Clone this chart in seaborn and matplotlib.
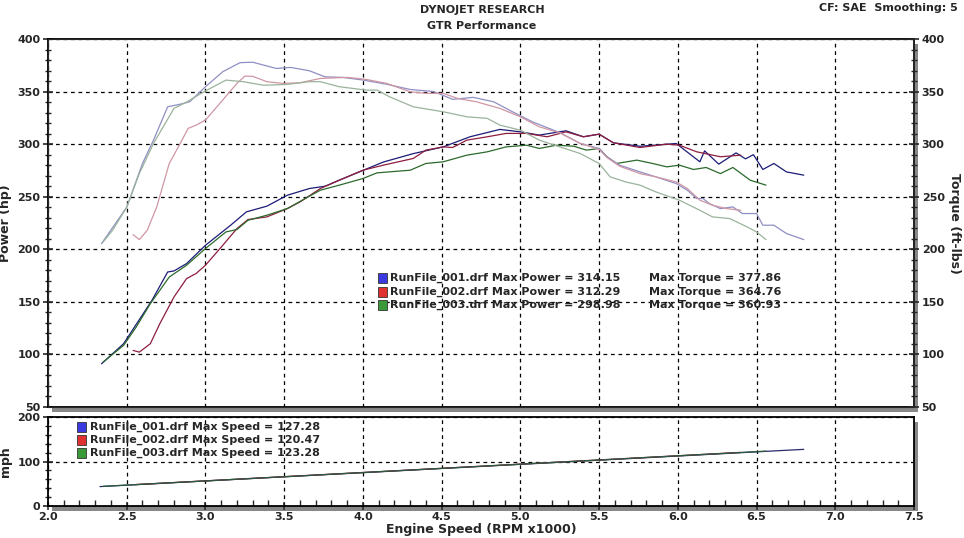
import matplotlib
matplotlib.use("Agg")
import matplotlib.pyplot as plt
from matplotlib.patches import Rectangle
from matplotlib.ticker import MultipleLocator
import seaborn as sns
import pandas as pd

# ---------------- data ----------------
run_names = ["RunFile_001.drf", "RunFile_002.drf", "RunFile_003.drf"]
max_power = ["314.15", "312.29", "298.98"]
max_torque = ["377.86", "364.76", "360.93"]
max_speed = ["127.28", "120.47", "123.28"]

p1_rpm = [2.34, 2.48, 2.66, 2.76, 2.80, 2.88, 3.0, 3.16, 3.26, 3.39, 3.52, 3.66, 3.76, 3.87, 4.0,
          4.13, 4.32, 4.51, 4.68, 4.87, 5.0, 5.12, 5.29, 5.40, 5.5, 5.59, 5.76, 5.99, 6.14, 6.17,
          6.26, 6.37, 6.43, 6.48, 6.54, 6.61, 6.69, 6.80]
p1_hp = [91.1, 110.2, 151.4, 178.4, 179.4, 186.4, 203.8, 222.9, 235.6, 241.0, 251.4, 257.8, 260.0,
         267.0, 275.0, 283.0, 291.0, 297.4, 307.0, 314.0, 311.7, 308.6, 312.7, 307.0, 309.5, 301.3,
         298.0, 300.6, 283.2, 293.6, 281.0, 291.7, 286.0, 290.0, 275.9, 281.6, 273.6, 270.5]

p2_rpm = [2.54, 2.58, 2.65, 2.71, 2.80, 2.88, 2.94, 3.0, 3.11, 3.2, 3.27, 3.39, 3.52, 3.6, 3.73,
          3.85, 4.0, 4.13, 4.32, 4.40, 4.51, 4.57, 4.66, 4.79, 4.91, 5.04, 5.17, 5.29, 5.40, 5.5,
          5.59, 5.76, 5.93, 6.01, 6.12, 6.27, 6.4]
p2_hp = [103.8, 102.2, 110.2, 129.2, 154.6, 172.1, 176.9, 184.8, 203.8, 219.7, 228.3, 230.8, 238.7,
         245.0, 257.8, 265.7, 275.2, 280.0, 286.4, 294.3, 297.4, 296.8, 303.8, 307.0, 310.2, 310.2,
         307.0, 311.7, 307.0, 309.5, 301.3, 296.8, 300.0, 299.0, 292.7, 288.0, 289.5]

p3_rpm = [2.35, 2.48, 2.56, 2.65, 2.77, 2.88, 3.0, 3.13, 3.2, 3.27, 3.39, 3.52, 3.66, 3.73, 3.85,
          4.0, 4.09, 4.30, 4.40, 4.51, 4.66, 4.79, 4.91, 5.04, 5.12, 5.23, 5.34, 5.42, 5.5, 5.55,
          5.61, 5.74, 5.84, 5.93, 6.01, 6.10, 6.18, 6.27, 6.35, 6.46, 6.56]
p3_hp = [92.7, 108.6, 126.0, 148.3, 173.6, 184.8, 200.7, 216.5, 218.8, 227.6, 232.4, 238.7, 250.5,
         256.2, 261.0, 267.3, 272.7, 275.2, 281.6, 283.2, 289.5, 292.7, 297.4, 299.0, 295.9, 299.0,
         298.0, 294.3, 295.9, 288.0, 281.6, 284.8, 281.6, 278.4, 280.0, 275.9, 277.8, 272.0, 277.8,
         265.7, 261.0]

t1_rpm = [2.34, 2.5, 2.6, 2.67, 2.76, 2.84, 2.9, 3.0, 3.11, 3.22, 3.3, 3.45, 3.54, 3.66, 3.76,
          3.87, 4.0, 4.15, 4.30, 4.45, 4.57, 4.7, 4.83, 4.95, 5.08, 5.25, 5.38, 5.5, 5.55, 5.63,
          5.76, 5.86, 5.99, 6.06, 6.12, 6.16, 6.20, 6.27, 6.35, 6.41, 6.5, 6.54, 6.61, 6.69, 6.80]
t1_lbft = [205.4, 240.0, 281.6, 303.8, 335.5, 338.0, 340.3, 354.6, 368.9, 377.5, 377.9, 372.0,
           373.0, 369.8, 364.0, 363.5, 361.0, 357.0, 352.0, 350.0, 342.6, 344.5, 340.3, 330.8,
           321.0, 311.0, 300.7, 295.9, 287.9, 280.0, 273.6, 268.9, 262.5, 256.2, 248.3, 248.3,
           243.5, 238.7, 240.3, 234.0, 234.0, 222.9, 222.9, 215.0, 209.2]

t2_rpm = [2.54, 2.58, 2.63, 2.69, 2.77, 2.84, 2.89, 2.94, 3.0, 3.11, 3.2, 3.25, 3.3, 3.39, 3.49,
          3.6, 3.73, 3.90, 4.02, 4.15, 4.30, 4.40, 4.51, 4.60, 4.72, 4.87, 5.0, 5.12, 5.25, 5.38,
          5.5, 5.55, 5.63, 5.76, 5.86, 5.99, 6.06, 6.14, 6.22, 6.31, 6.4]
t2_lbft = [214.0, 209.2, 218.0, 240.0, 281.6, 300.7, 315.0, 318.0, 322.9, 342.0, 357.8, 364.7,
           364.5, 359.4, 357.8, 358.4, 362.5, 363.5, 361.6, 357.8, 349.8, 348.3, 348.3, 343.5,
           340.3, 334.0, 326.0, 316.5, 310.8, 300.7, 295.0, 287.3, 279.0, 272.0, 268.9, 264.0,
           257.8, 246.7, 241.9, 238.7, 237.1]

t3_rpm = [2.35, 2.41, 2.5, 2.58, 2.67, 2.8, 2.88, 2.99, 3.13, 3.24, 3.37, 3.52, 3.66, 3.73, 3.85,
          4.02, 4.09, 4.17, 4.32, 4.51, 4.66, 4.79, 4.87, 5.0, 5.08, 5.12, 5.25, 5.38, 5.5, 5.57,
          5.67, 5.76, 5.86, 6.01, 6.14, 6.22, 6.33, 6.44, 6.5, 6.56]
t3_lbft = [207.0, 218.0, 240.0, 272.0, 300.7, 334.0, 340.0, 349.8, 360.9, 359.4, 356.0, 356.8,
           359.4, 359.4, 354.6, 351.4, 351.4, 345.0, 335.5, 330.8, 326.0, 324.5, 318.1, 313.3,
           307.0, 303.8, 297.4, 291.1, 281.6, 268.9, 264.0, 261.0, 254.6, 246.7, 237.1, 230.8,
           229.2, 221.3, 216.5, 209.2]

s1_rpm = [2.33, 3.0, 4.0, 5.0, 6.0, 6.8]
s1_mph = [43.6, 56.2, 74.9, 93.6, 112.3, 127.3]
s2_rpm = [2.55, 3.0, 4.0, 5.0, 6.0, 6.4]
s2_mph = [48.0, 56.5, 75.3, 94.1, 112.9, 120.5]
s3_rpm = [2.35, 3.0, 4.0, 5.0, 6.0, 6.56]
s3_mph = [44.2, 56.4, 75.2, 94.0, 112.8, 123.3]

rpm_ticks = [2.0, 2.5, 3.0, 3.5, 4.0, 4.5, 5.0, 5.5, 6.0, 6.5, 7.0, 7.5]

# ---------------- style ----------------
sns.set_style("white")
plt.rcParams["font.family"] = ["DejaVu Sans"]
plt.rcParams["font.weight"] = "bold"

power_cols = ["#1c1c78", "#8e1e3e", "#2c6a2c"]
torque_cols = ["#8f8fc4", "#cf97a4", "#9bb39b"]
box_cols = ["#3a3ae0", "#e03030", "#3a9a3a"]

W, H = 964, 538
fig = plt.figure(figsize=(W / 100, H / 100), dpi=100)
fig.patch.set_facecolor("white")

def fx(px):
    return px / W

def fy(py):
    return 1 - py / H

ax = fig.add_axes([fx(48), fy(407), fx(914) - fx(48), fy(39) - fy(407)])
axs = fig.add_axes([fx(48), fy(506), fx(914) - fx(48), fy(417) - fy(506)])

for a in (ax, axs):
    pos = a.get_position()
    fig.patches.append(Rectangle((pos.x0 + 4 / W, pos.y0 - 5 / H), pos.width, pos.height,
                                 transform=fig.transFigure, facecolor="#888888",
                                 edgecolor="none", zorder=-5))
    a.set_facecolor("white")
    for s in a.spines.values():
        s.set_color("black")
        s.set_linewidth(1.3)

# --- top panel ---
for rpm, hp, c in zip([p1_rpm, p2_rpm, p3_rpm], [p1_hp, p2_hp, p3_hp], power_cols):
    sns.lineplot(x=rpm, y=hp, ax=ax, color=c, linewidth=0.9, estimator=None, sort=False,
                 zorder=4)

ax2 = ax.twinx()
for rpm, tq, c in zip([t1_rpm, t2_rpm, t3_rpm], [t1_lbft, t2_lbft, t3_lbft], torque_cols):
    sns.lineplot(x=rpm, y=tq, ax=ax2, color=c, linewidth=0.9, estimator=None, sort=False,
                 zorder=3)

for a in (ax, ax2):
    a.set_ylim(50, 400)
    a.set_xlim(2.0, 7.5)
    a.yaxis.set_major_locator(MultipleLocator(50))
    a.yaxis.set_minor_locator(MultipleLocator(10))
ax2.spines["right"].set_linewidth(1.3)
ax.xaxis.set_major_locator(MultipleLocator(0.5))
ax.tick_params(axis="x", bottom=False, labelbottom=False)
ax.tick_params(axis="y", which="major", direction="inout", length=7, width=1.2,
               labelsize=8, pad=2)
ax.tick_params(axis="y", which="minor", direction="inout", length=5, width=1, left=True)
ax2.tick_params(axis="y", which="major", direction="inout", length=7, width=1.2,
                labelsize=8, pad=2, right=True)
ax2.tick_params(axis="y", which="minor", direction="inout", length=5, width=1, right=True)
ax.grid(True, which="major", color="black", linestyle=(0, (3, 3)), linewidth=0.9)
ax2.grid(False)
ax.set_xlabel("")
ax.set_ylabel("Power (hp)", fontsize=9, fontweight="bold", labelpad=4)
ax2.set_ylabel("Torque (ft-lbs)", fontsize=9, fontweight="bold", rotation=-90, labelpad=12)

# legend block in top panel
ly = [278, 292, 305]
for i in range(3):
    fig.patches.append(Rectangle((fx(378), fy(ly[i] + 5)), 9 / W, 10 / H, transform=fig.transFigure,
                                 facecolor=box_cols[i], edgecolor="#333333", linewidth=0.6,
                                 zorder=10))
    fig.text(fx(390), fy(ly[i]), f"{run_names[i]} Max Power = {max_power[i]}", fontsize=8,
             fontweight="bold", va="center", ha="left", zorder=11)
    fig.text(fx(649), fy(ly[i]), f"Max Torque = {max_torque[i]}", fontsize=8,
             fontweight="bold", va="center", ha="left", zorder=11)

# --- bottom panel ---
for rpm, mph, c in zip([s1_rpm, s2_rpm, s3_rpm], [s1_mph, s2_mph, s3_mph],
                       ["#2a2a70", "#8e1e3e", "#2c5a3c"]):
    sns.lineplot(x=rpm, y=mph, ax=axs, color=c, linewidth=0.9, estimator=None, sort=False)
axs.set_xlim(2.0, 7.5)
axs.set_ylim(0, 200)
axs.set_xticks(rpm_ticks)
axs.set_xticklabels([f"{v:.1f}" for v in rpm_ticks])
axs.xaxis.set_minor_locator(MultipleLocator(0.1))
axs.yaxis.set_major_locator(MultipleLocator(100))
axs.yaxis.set_minor_locator(MultipleLocator(20))
axs.tick_params(axis="x", which="major", direction="inout", length=6, width=1.1,
                labelsize=8, pad=1, bottom=True)
axs.tick_params(axis="x", which="minor", direction="in", length=4, width=1, bottom=True)
axs.tick_params(axis="y", which="major", direction="inout", length=7, width=1.2,
                labelsize=8, pad=2, left=True)
axs.tick_params(axis="y", which="minor", direction="inout", length=5, width=1, left=True)
axs.grid(True, which="major", color="black", linestyle=(0, (3, 3)), linewidth=0.9)
axs.set_ylabel("mph", fontsize=9, fontweight="bold", labelpad=4)
axs.set_xlabel("Engine Speed (RPM x1000)", fontsize=9, fontweight="bold", labelpad=1)

sy = [427, 440, 453]
for i in range(3):
    fig.patches.append(Rectangle((fx(77), fy(sy[i] + 5)), 9 / W, 10 / H, transform=fig.transFigure,
                                 facecolor=box_cols[i], edgecolor="#333333", linewidth=0.6,
                                 zorder=10))
    fig.text(fx(90), fy(sy[i]), f"{run_names[i]} Max Speed = {max_speed[i]}", fontsize=8,
             fontweight="bold", va="center", ha="left", zorder=11)

# titles
fig.text(0.5, fy(10), "DYNOJET RESEARCH", ha="center", va="center", fontsize=8,
         fontweight="bold")
fig.text(0.5, fy(26), "GTR Performance", ha="center", va="center", fontsize=8,
         fontweight="bold")
fig.text(fx(958), fy(8), "CF: SAE  Smoothing: 5", ha="right", va="center", fontsize=8,
         fontweight="bold")

fig.savefig("out.png", dpi=100, facecolor="white")
